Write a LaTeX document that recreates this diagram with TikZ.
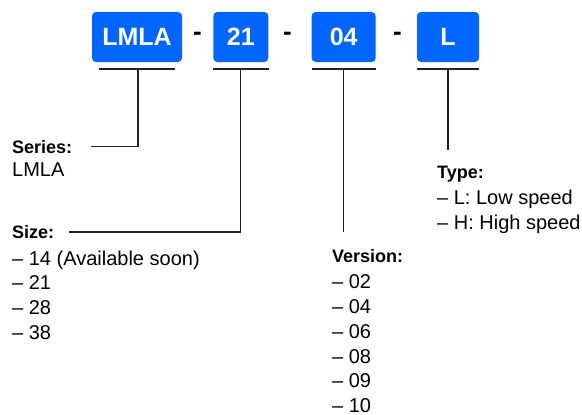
\documentclass[tikz,border=0pt]{standalone}
\usepackage{fontspec}
\setmainfont{Liberation Sans}
\definecolor{partblue}{RGB}{0,102,255}
\definecolor{linegray}{RGB}{34,34,34}

\tikzset{
  codebox/.style={fill=partblue, rounded corners=4pt, text=white, inner sep=0pt,
                  minimum height=50pt, font=\fontsize{25}{25}\selectfont\bfseries},
  sepdash/.style={inner sep=0pt, font=\fontsize{26}{26}\selectfont\bfseries},
  headtext/.style={anchor=base west, inner sep=0pt, font=\fontsize{18}{25}\selectfont\bfseries},
  listtext/.style={anchor=north west, inner sep=0pt, align=left, font=\fontsize{20}{24.8}\selectfont},
  bar/.style={linegray, line width=2pt},
  stem/.style={linegray, line width=1.3pt}
}

\begin{document}
\begin{tikzpicture}[x=1pt, y=-1pt]
	\useasboundingbox (0,0) rectangle (582,415);

	% the part number
	\node [codebox, minimum width=90pt] (lmla) at (137, 37) {LMLA};
	\node [codebox, minimum width=55pt] (size21) at (240.8, 37) {21};
	\node [codebox, minimum width=64pt] (ver04) at (343.7, 37) {04};
	\node [codebox, minimum width=62pt] (typeL) at (448, 37) {L};
	\node [sepdash] (dasha) at (197.5, 36) {-};
	\node [sepdash] (dashb) at (287.5, 36) {-};
	\node [sepdash] (dashc) at (397.5, 36) {-};

	% labels
	\node [headtext] (series) at (12, 153) {Series:};
	\node [listtext] (serieslist) at (12, 163) {LMLA};
	\node [headtext] (size) at (12, 238.5) {Size:};
	\node [listtext] (sizelist) at (12, 250.5) {– 14 (Available soon)\\– 21\\– 28\\– 38};
	\node [headtext] (version) at (332, 262.5) {Version:};
	\node [listtext] (versionlist) at (332, 274.5) {– 02\\– 04\\– 06\\– 08\\– 09\\– 10};
	\node [headtext] (type) at (437, 178.5) {Type:};
	\node [listtext] (typelist) at (437, 190) {– L: Low speed\\– H: High speed};

	% bars under the boxes
	\draw [bar] ([xshift=7pt, yshift=-7pt]lmla.south west) -- ([xshift=-7pt, yshift=-7pt]lmla.south east);
	\draw [bar] ([yshift=-7pt]size21.south west) -- ([yshift=-7pt]size21.south east);
	\draw [bar] ([yshift=-7pt]ver04.south west) -- ([yshift=-7pt]ver04.south east);
	\draw [bar] ([yshift=-7pt]typeL.south west) -- ([yshift=-7pt]typeL.south east);

	% leader lines
	\coordinate (verend) at (343.7, 232);
	\coordinate (typeend) at (448, 150);
	\draw [stem] ([xshift=1pt, yshift=-7pt]lmla.south) |- ([xshift=19pt]series.east);
	\draw [stem] ([yshift=-7pt]size21.south) |- ([xshift=15pt]size.east);
	\draw [stem] ([yshift=-7pt]ver04.south) -- (verend);
	\draw [stem] ([yshift=-7pt]typeL.south) -- (typeend);
\end{tikzpicture}
\end{document}
